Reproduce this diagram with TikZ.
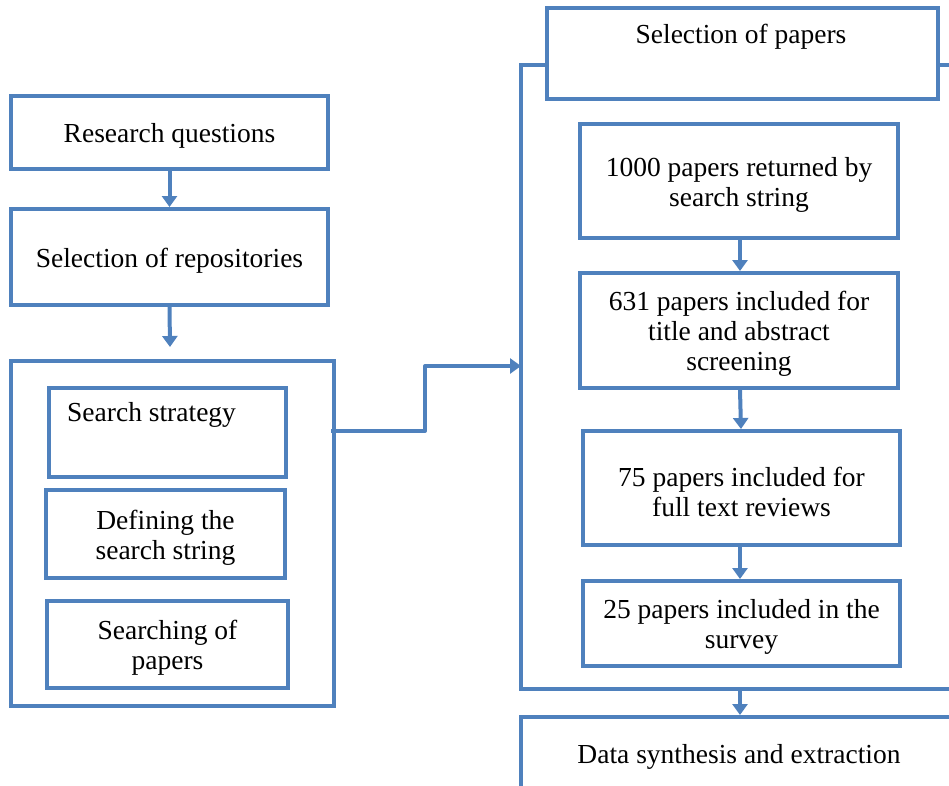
\documentclass[tikz,border=0pt]{standalone}
\usepackage{fontspec}
\setmainfont{Liberation Serif}
\usetikzlibrary{arrows.meta}
\definecolor{boxblue}{HTML}{4F81BD}
\begin{document}
\begin{tikzpicture}[x=1pt,y=-1pt,
  box/.style={draw=boxblue, line width=4pt, fill=white, rectangle, inner sep=0pt},
  txt/.style={inner sep=0pt, align=center, font=\fontsize{27.5}{30}\selectfont},
  boxt/.style={label={[txt, yshift=-3.5pt]center:{#1}}},
  arr/.style={draw=boxblue, line width=4pt, -{Triangle[length=11pt,width=15pt]}},
  ln/.style={draw=boxblue, line width=4pt}]
\useasboundingbox (0,0) rectangle (949,785);
\clip (0,0) rectangle (949,785);
% left column
\node[box, minimum width=317pt, minimum height=73pt, boxt={Research questions}] (rq) at (169.5,132.5) {};
\node[box, minimum width=317pt, minimum height=96pt, boxt={Selection of repositories}] (repo) at (169.5,257) {};
\node[box, minimum width=323pt, minimum height=345pt] (lbig) at (172.5,533.5) {};
\node[box, minimum width=237pt, minimum height=89pt] (ss) at (167.5,432.5) {};
\node[txt, anchor=west] (sstext) at (67,415) {Search strategy};
\node[box, minimum width=239pt, minimum height=88pt, boxt={Defining the\\search string}] (def) at (165.5,534) {};
\node[box, minimum width=241pt, minimum height=87pt, boxt={Searching of\\papers}] (sp) at (167.5,644.5) {};
\coordinate (repoend) at (170,347);
\draw[arr] (rq.south) -- (repo.north);
\draw[arr] (repo.south) -- (repoend);
% right column
\node[box, minimum width=459pt, minimum height=624pt] (rbig) at (750.5,377) {};
\node[box, minimum width=391pt, minimum height=91pt] (sel) at (742.5,53.5) {};
\node[txt] (seltext) at (741,37) {Selection of papers};
\node[box, minimum width=318pt, minimum height=114pt, boxt={1000 papers returned by\\search string}] (p1000) at (739,181) {};
\node[box, minimum width=318pt, minimum height=115pt, boxt={631 papers included for\\title and abstract\\screening}] (p631) at (739,330.5) {};
\node[box, minimum width=317pt, minimum height=114pt, boxt={75 papers included for\\full text reviews}] (p75) at (741.5,488) {};
\node[box, minimum width=317pt, minimum height=85pt, boxt={25 papers included in the\\survey}] (p25) at (741.5,623.5) {};
\node[box, minimum width=459pt, minimum height=103pt] (data) at (750.5,768.5) {};
\node[txt] (datatext) at (739,757) {Data synthesis and extraction};
\draw[arr] (p1000.south -| 740,0) -- (p631.north -| 740,0);
\draw[arr] (p631.south -| 740,0) -- (p75.north -| 741,0);
\draw[arr] (p75.south -| 740,0) -- (p25.north -| 740,0);
\draw[arr] (rbig.south -| 740,0) -- (data.north -| 740,0);
% connector
\coordinate (mid) at (425,400);
\coordinate (rin) at (521,366);
\draw[arr, line join=round] ([xshift=-5pt]lbig.east |- 0,431) -| (mid) |- (rin);
\end{tikzpicture}
\end{document}
